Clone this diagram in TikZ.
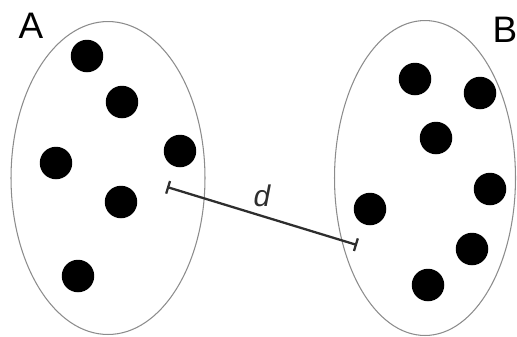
\documentclass[tikz,border=0pt]{standalone}
\usepackage{fontspec}
\setmainfont{Liberation Sans}
\usetikzlibrary{arrows.meta, shapes.geometric}
\definecolor{RimGray}{rgb}{0.55, 0.55, 0.55}
\definecolor{LineGray}{rgb}{0.18, 0.18, 0.18}

\begin{document}
\begin{tikzpicture}[
    x=0.02cm, y=-0.02cm,
    cluster/.style={draw=RimGray, line width=0.6pt, ellipse, inner sep=0pt},
    dot/.style={circle, fill=black, minimum size=0.65cm, inner sep=0pt},
    tag/.style={font=\fontsize{21}{25}\selectfont, inner sep=0pt},
]
\useasboundingbox (0,0) rectangle (517,336);

% the two sets
\node[cluster, minimum width=3.88cm, minimum height=6.26cm] (setA) at (108,178) {};
\node[cluster, minimum width=3.62cm, minimum height=6.3cm] (setB) at (425,178) {};

\node[tag] (labA) at (31,26) {A};
\node[tag] (labB) at (505,30) {B};

% members of A
\node[dot] (a1) at (87,56) {};
\node[dot] (a2) at (122,102) {};
\node[dot] (a3) at (180,151) {};
\node[dot] (a4) at (56,163) {};
\node[dot] (a5) at (121,202) {};
\node[dot] (a6) at (78,276) {};

% members of B
\node[dot] (b1) at (415,79) {};
\node[dot] (b2) at (480,93) {};
\node[dot] (b3) at (436,138) {};
\node[dot] (b4) at (490,189) {};
\node[dot] (b5) at (370,209) {};
\node[dot] (b6) at (472,249) {};
\node[dot] (b7) at (428,285) {};

% distance between the sets
\coordinate (dA) at (167,187);
\coordinate (dB) at (357,245);
\draw[{Bar[width=7.5pt]}-{Bar[width=7.5pt]}, line width=1.3pt, LineGray]
    (dA) -- node[above, yshift=1pt, font=\fontsize{17}{20}\selectfont\itshape] (dist) {d} (dB);

\end{tikzpicture}
\end{document}
